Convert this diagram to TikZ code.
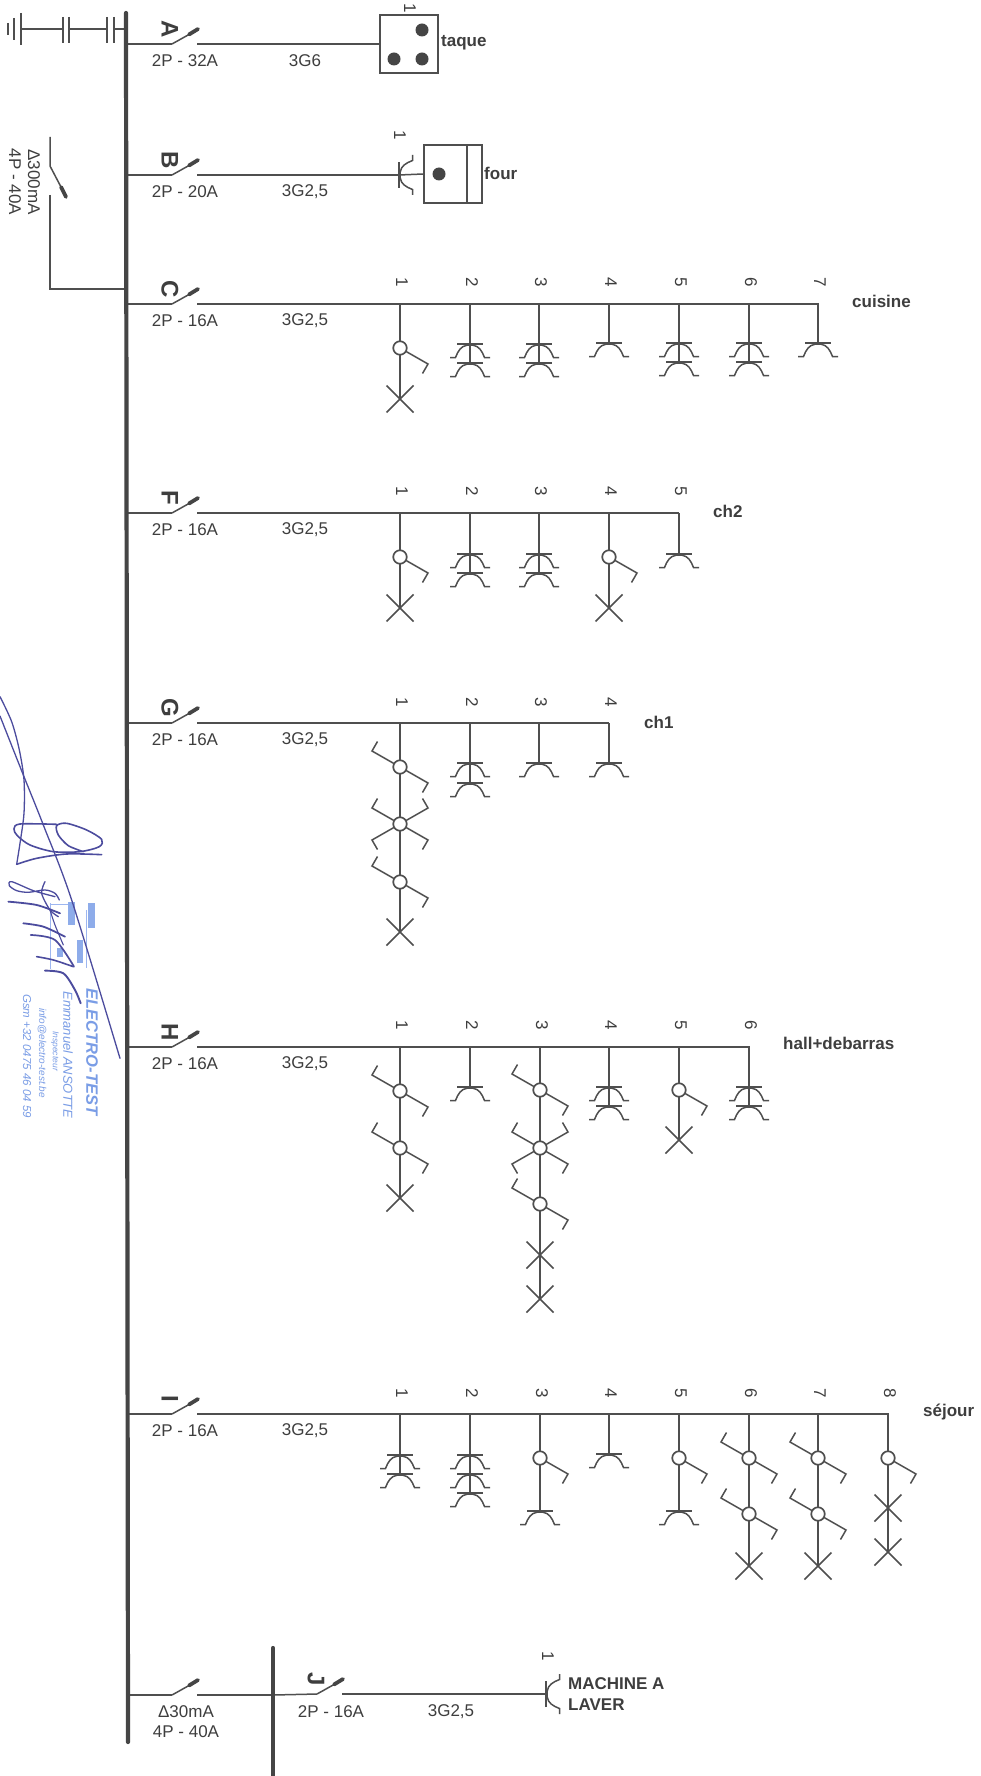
\documentclass[tikz,border=0pt]{standalone}
\usepackage{fontspec}
\setmainfont{Liberation Sans}
\usetikzlibrary{calc}
\definecolor{ink}{HTML}{4F4F4F}
\definecolor{txt}{HTML}{3E3E3E}
\definecolor{busc}{HTML}{454545}
\definecolor{sign}{HTML}{4C4C9E}
\definecolor{stamp}{HTML}{7A9DE6}
\definecolor{stampb}{HTML}{9DB6F0}
\newcommand\fs[1]{\fontsize{#1}{#1}\selectfont}
\tikzset{
  wire/.style={draw=ink,line width=1.5pt},
  busbar/.style={draw=busc,line width=4.2pt,line cap=round},
  blob/.style={draw=busc,line width=3.8pt,line cap=round},
  lab/.style={text=txt,inner sep=0pt,font=\fs{17}},
  boldlab/.style={text=txt,inner sep=0pt,font=\fs{17}\bfseries,anchor=west},
  letter/.style={text=txt,inner sep=0pt,rotate=-90,font=\fs{24}\bfseries},
  numlab/.style={text=txt,inner sep=0pt,rotate=-90,font=\fs{17}},
  lampc/.style={circle,draw=ink,fill=white,line width=1.7pt,minimum size=13.5pt,inner sep=0pt},
  dotc/.style={circle,fill=busc,minimum size=13pt,inner sep=0pt},
  boxc/.style={draw=ink,fill=white,line width=1.7pt,minimum size=58pt,inner sep=0pt},
  sig/.style={draw=sign,line width=1.3pt,line cap=round,line join=round},
  stamptxt/.style={text=stamp,inner sep=0pt,rotate=-90},
  sock/.pic={
    \draw[wire] (-13,0)--(13,0);
    \draw[wire] (-20,13.5)--(-14.5,13.5) .. controls (-12,7) and (-9,2) .. (-3,1.2) -- (3,1.2) .. controls (9,2) and (12,7) .. (14.5,13.5)--(20,13.5);
  },
  crs/.pic={
    \draw[wire] (-13.5,-13.5)--(13.5,13.5);
    \draw[wire] (-13.5,13.5)--(13.5,-13.5);
  },
  armrd/.pic={\draw[wire] (0,0)--(28,16)--(22.5,25.5);},
  armlu/.pic={\draw[wire] (0,0)--(-28,-16)--(-22.5,-25.5);},
  armru/.pic={\draw[wire] (0,0)--(28,-16)--(22.5,-25.5);},
  armld/.pic={\draw[wire] (0,0)--(-28,16)--(-22.5,25.5);},
}
% breaker: id, hinge x, y
\newcommand\breaker[3]{%
  \coordinate (#1h) at (#2,#3);
  \coordinate (#1t) at ($(#1h)+(17,-9.5)$);
  \coordinate (#1u) at ($(#1h)+(26,-15)$);
  \coordinate (#1r) at ($(#1h)+(25,0)$);
  \draw[wire] (#1h)--(#1t);
  \draw[blob] (#1t)--(#1u);
}
% feeder: id, bus x, row y, end x, rating, cable
\newcommand\feeder[6]{%
  \breaker{#1}{172}{#3}
  \coordinate (#1bus) at (#2,#3);
  \coordinate (#1e) at (#4,#3);
  \draw[wire] (#1bus)--(#1h);
  \draw[wire] (#1r)--(#1e);
  \node[letter] (#1L) at ($(#1h)+(-2,-15)$) {#1};
  \node[lab] (#1P) at ($(#1h)+(13,17)$) {#5};
  \node[lab] (#1G) at (305,#3+17) {#6};
}
\newcommand\nums[3]{%
  \foreach \n/\xx in {#3} {\node[numlab] (#1n\n) at (\xx+2,#2-21) {\n};}
}
\newcommand\stem[4]{%
  \coordinate (#1a) at (#2,#3);
  \coordinate (#1b) at (#2,#4);
  \draw[wire] (#1a)--(#1b);
}
\newcommand\So[2]{\pic at (#1,#2) {sock};}
\newcommand\Cr[2]{\pic at (#1,#2) {crs};}
\newcommand\Lr[2]{\pic at (#1,#2) {armrd}; \node[lampc] at (#1,#2) {};}
\newcommand\Lt[2]{\pic at (#1,#2) {armrd}; \pic at (#1,#2) {armlu}; \node[lampc] at (#1,#2) {};}
\newcommand\Lq[2]{\pic at (#1,#2) {armrd}; \pic at (#1,#2) {armlu}; \pic at (#1,#2) {armru}; \pic at (#1,#2) {armld}; \node[lampc] at (#1,#2) {};}
\begin{document}
\begin{tikzpicture}[x=1pt,y=-1pt]
\useasboundingbox (0,0) rectangle (980,1776);
\fill[white] (0,0) rectangle (980,1776);

% stamp
\begin{scope}[shift={(0,890)},x=0.3333pt,y=-0.3333pt]
  \draw[stampb,line width=0.9pt] (150,40)--(150,238);
  \draw[stampb,line width=0.9pt] (150,42)--(205,42);
  \draw[stampb,line width=0.7pt] (258,60)--(258,235);
  \fill[stamp!85] (205,36) rectangle (225,105);
  \fill[stamp!85] (265,40) rectangle (285,115);
  \fill[stamp!85] (232,150) rectangle (250,220);
  \fill[stamp!85] (170,175) rectangle (190,200);
\end{scope}
\node[stamptxt,font=\fs{16.5}\bfseries\itshape] (st1) at (92,1052) {ELECTRO-TEST};
\node[stamptxt,font=\fs{13}\itshape] (st2) at (68,1055) {Emmanuel ANSOTTE};
\node[stamptxt,font=\fs{8.5}\itshape] (st3) at (55,1051) {Inspecteur};
\node[stamptxt,font=\fs{10}\itshape] (st4) at (42,1053) {info@electro-test.be};
\node[stamptxt,font=\fs{11.5}\itshape] (st5) at (27,1056) {Gsm +32 0475 46 04 59};

% signature
\begin{scope}[shift={(0,680)},x=0.3333pt,y=-0.3333pt]
  \draw[sig] plot[smooth] coordinates {(0,108) (68,280) (130,435) (215,660) (360,1135)};
  \draw[sig] plot[smooth] coordinates {(0,50) (35,125) (58,210) (72,300) (72,400) (60,490) (50,553)};
  \draw[sig,line width=1.6pt] plot[smooth] coordinates {(50,553) (110,535) (200,522) (305,524)};
  \draw[sig,line width=1.6pt] plot[smooth] coordinates {(170,433) (60,432) (42,447) (52,467) (90,495) (160,515) (240,515) (298,500) (305,478) (260,450) (200,430) (170,437) (175,465) (205,497) (250,515)};
  \draw[sig] plot[smooth] coordinates {(165,650) (100,632) (35,605) (28,617) (50,632) (85,637) (135,630) (165,640) (178,660)};
  \draw[sig] plot[smooth] coordinates {(135,605) (125,640) (150,690) (175,710)};
  \draw[sig,line width=1.8pt] plot[smooth] coordinates {(25,665) (110,675) (180,700)};
  \draw[sig,line width=1.8pt] plot[smooth] coordinates {(70,730) (130,740) (195,770)};
  \draw[sig,line width=1.7pt] plot[smooth] coordinates {(92,765) (165,780) (222,860)};
  \draw[sig,line width=1.6pt] plot[smooth] coordinates {(110,830) (160,840) (220,860)};
  \draw[sig,line width=1.9pt] plot[smooth] coordinates {(135,872) (190,880) (225,930) (242,970)};
  \draw[sig,line width=1.1pt] plot[smooth] coordinates {(150,690) (165,735) (190,795)};
\end{scope}

% busbars
\coordinate (busT) at (126,13);
\coordinate (busB) at (128,1742);
\coordinate (bus2T) at (273,1648);
\coordinate (bus2B) at (273,1776);

% earth and surge
\coordinate (gr) at (21,29);
\coordinate (grb) at (126,29);
\draw[wire] (gr)--(grb);
\foreach \xx/\hh in {8/6,14/11,21/16}{\draw[wire] (\xx,29-\hh)--(\xx,29+\hh);}
\foreach \xx in {63,69,107,114}{\draw[wire] (\xx,17)--(\xx,43);}
\fill[white] (64,27.5) rectangle (68,30.5);
\fill[white] (108,27.5) rectangle (113,30.5);

% 300mA switch
\coordinate (m1) at (50,137);
\coordinate (m2) at (50,166);
\coordinate (m3) at (61,187);
\coordinate (m4) at (66,197);
\coordinate (m5) at (50,195);
\coordinate (m6) at (50,289);
\coordinate (m7) at (127,289);
\draw[wire] (m1)--(m2)--(m3);
\draw[blob] (m3)--(m4);
\draw[wire] (m5)--(m6)--(m7);
\node[numlab] (m300) at (34,182) {Δ300mA};
\node[numlab] (m40) at (15,182) {4P - 40A};

% A taque
\feeder{A}{127}{44}{380}{2P - 32A}{3G6}
\node[boxc] (tq) at (409,44) {};
\node[dotc] (tq1) at (422,30) {};
\node[dotc] (tq2) at (394,59) {};
\node[dotc] (tq3) at (422,59) {};
\node[numlab] (tqn) at (410,8) {1};
\node[boldlab] (tql) at (441,43) {taque};

% B four
\feeder{B}{127}{175}{399}{2P - 20A}{3G2,5}
\node[boxc] (fo) at (453,174) {};
\coordinate (fo1) at (467,145);
\coordinate (fo2) at (467,203);
\draw[wire] (fo1)--(fo2);
\draw[wire] (Be)--(fo.west);
\pic[rotate=90] at (399,175) {sock};
\node[dotc] (fod) at (439,174) {};
\node[numlab] (fon) at (400,135) {1};
\node[boldlab] (fol) at (484,173) {four};

% C cuisine
\feeder{C}{127}{304}{818}{2P - 16A}{3G2,5}
\nums{C}{303}{1/400,2/470,3/539,4/609,5/679,6/749,7/818}
\stem{C1}{400}{304}{399} \Lr{400}{348} \Cr{400}{399}
\stem{C2}{470}{304}{363} \So{470}{344} \So{470}{363}
\stem{C3}{539}{303}{363} \So{539}{344} \So{539}{363}
\stem{C4}{609}{303}{343} \So{609}{343}
\stem{C5}{679}{303}{362} \So{679}{343} \So{679}{362}
\stem{C6}{749}{303}{362} \So{749}{343} \So{749}{362}
\stem{C7}{818}{303}{343} \So{818}{343}
\node[boldlab] (Cl) at (852,301) {cuisine};

% F ch2
\feeder{F}{127}{513}{679}{2P - 16A}{3G2,5}
\nums{F}{512}{1/400,2/470,3/539,4/609,5/679}
\stem{F1}{400}{513}{608} \Lr{400}{557} \Cr{400}{608}
\stem{F2}{470}{513}{573} \So{470}{554} \So{470}{573}
\stem{F3}{539}{513}{573} \So{539}{554} \So{539}{573}
\stem{F4}{609}{513}{608} \Lr{609}{557} \Cr{609}{608}
\stem{F5}{679}{513}{554} \So{679}{554}
\node[boldlab] (Fl) at (713,511) {ch2};

% G ch1
\feeder{G}{127}{723}{609}{2P - 16A}{3G2,5}
\nums{G}{723}{1/400,2/470,3/539,4/609}
\stem{G1}{400}{723}{932} \Lt{400}{767} \Lq{400}{824} \Lt{400}{882} \Cr{400}{932}
\stem{G2}{470}{723}{783} \So{470}{763} \So{470}{783}
\stem{G3}{539}{723}{763} \So{539}{763}
\stem{G4}{609}{723}{763} \So{609}{763}
\node[boldlab] (Gl) at (644,722) {ch1};

% H hall
\feeder{H}{127}{1047}{749}{2P - 16A}{3G2,5}
\nums{H}{1046}{1/400,2/470,3/540,4/609,5/679,6/749}
\stem{H1}{400}{1047}{1198} \Lt{400}{1091} \Lt{400}{1148} \Cr{400}{1198}
\stem{H2}{470}{1046}{1087} \So{470}{1087}
\stem{H3}{540}{1046}{1299} \Lt{540}{1090} \Lq{540}{1148} \Lt{540}{1204} \Cr{540}{1255} \Cr{540}{1299}
\stem{H4}{609}{1046}{1106} \So{609}{1087} \So{609}{1106}
\stem{H5}{679}{1046}{1140} \Lr{679}{1090} \Cr{679}{1140}
\stem{H6}{749}{1046}{1106} \So{749}{1087} \So{749}{1106}
\node[boldlab] (Hl) at (783,1043) {hall+debarras};

% I sejour
\feeder{I}{127}{1414}{888}{2P - 16A}{3G2,5}
\nums{I}{1414}{1/400,2/470,3/540,4/609,5/679,6/749,7/818,8/888}
\stem{I1}{400}{1414}{1474} \So{400}{1455} \So{400}{1474}
\stem{I2}{470}{1414}{1493} \So{470}{1455} \So{470}{1474} \So{470}{1493}
\stem{I3}{540}{1414}{1511} \Lr{540}{1458} \So{540}{1511}
\stem{I4}{609}{1413}{1454} \So{609}{1454}
\stem{I5}{679}{1413}{1511} \Lr{679}{1458} \So{679}{1511}
\stem{I6}{749}{1413}{1566} \Lt{749}{1458} \Lt{749}{1514} \Cr{749}{1566}
\stem{I7}{818}{1413}{1566} \Lt{818}{1458} \Lt{818}{1514} \Cr{818}{1566}
\stem{I8}{888}{1413}{1552} \Lr{888}{1458} \Cr{888}{1508} \Cr{888}{1552}
\node[boldlab] (Il) at (923,1412) {séjour};

% bottom row
\breaker{K}{172}{1695}
\coordinate (Kbus) at (128,1695);
\coordinate (Kj) at (273,1695);
\draw[wire] (Kbus)--(Kh);
\draw[wire] (Kr)--(Kj);
\node[lab] (K1) at (186,1712) {Δ30mA};
\node[lab] (K2) at (186,1732) {4P - 40A};
\breaker{J}{317}{1694}
\coordinate (Je) at (546,1694);
\draw[wire] (Kj)--(Jh);
\draw[wire] (Jr)--(Je);
\node[letter] (JL) at (316,1679) {J};
\node[lab] (JP) at (331,1712) {2P - 16A};
\node[lab] (JG) at (451,1712) {3G2,5};
\pic[rotate=90] at (546,1694) {sock};
\node[numlab] (Jn) at (548,1656) {1};
\node[boldlab] (Jl1) at (568,1684) {MACHINE A};
\node[boldlab] (Jl2) at (568,1705) {LAVER};

\draw[busbar] (busT)--(busB);
\draw[busbar] (bus2T)--(bus2B);
\end{tikzpicture}
\end{document}
